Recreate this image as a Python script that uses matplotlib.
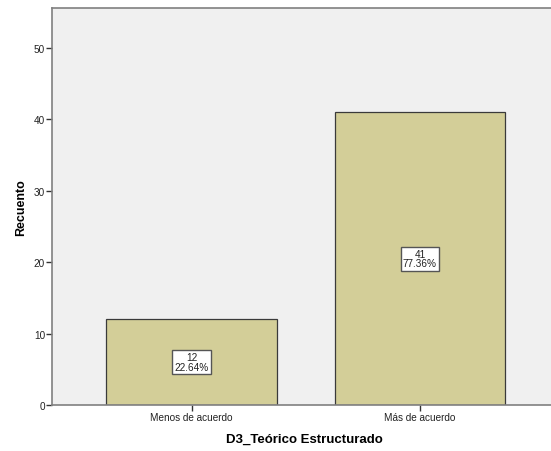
import matplotlib
matplotlib.use("Agg")
import matplotlib.pyplot as plt

categories = ["Menos de acuerdo", "Más de acuerdo"]
counts = [12, 41]
percents = ["22.64%", "77.36%"]
yticks = [0, 10, 20, 30, 40, 50]

plt.rcParams['font.family'] = ['Liberation Sans', 'DejaVu Sans']

fig = plt.figure(figsize=(5.51, 4.52), dpi=100, facecolor='white')
# plot area in pixel terms: left 52, top 9, bottom 406, runs past right edge
ax = fig.add_axes([52 / 551, 1 - 406 / 452, 1 - 52 / 551 + 0.01, (406 - 9) / 452])
ax.set_facecolor('#F0F0F0')

x = list(range(len(categories)))
ax.bar(x, counts, width=0.745, color='#D3CE98', edgecolor='#3A3A3A', linewidth=0.9, zorder=2)

for xi, c, p in zip(x, counts, percents):
    ax.text(xi, c / 2, f"{c}\n{p}", ha='center', va='center', fontsize=7.2,
            linespacing=0.95, color='#222222', zorder=3,
            bbox=dict(facecolor='white', edgecolor='#555555', linewidth=1.0,
                      boxstyle='square,pad=0.22'))

ax.set_xlim(-0.611, 1.568 + 0.03)
ax.set_ylim(0, 55.6)
ax.set_yticks(yticks)
ax.set_xticks(x)
ax.set_xticklabels(categories)

for side in ['left', 'bottom', 'top']:
    ax.spines[side].set_color('#808080')
    ax.spines[side].set_linewidth(1.2)
ax.spines['right'].set_visible(False)

ax.tick_params(axis='both', direction='out', length=4, width=1, color='#333333',
               labelsize=7.2, labelcolor='#222222', pad=1)

ax.set_ylabel("Recuento", fontsize=9, fontweight='bold', labelpad=5)
ax.set_xlabel("D3_Teórico Estructurado", fontsize=9.5, fontweight='bold', labelpad=8)

fig.savefig("out.png", dpi=100, facecolor='white')
